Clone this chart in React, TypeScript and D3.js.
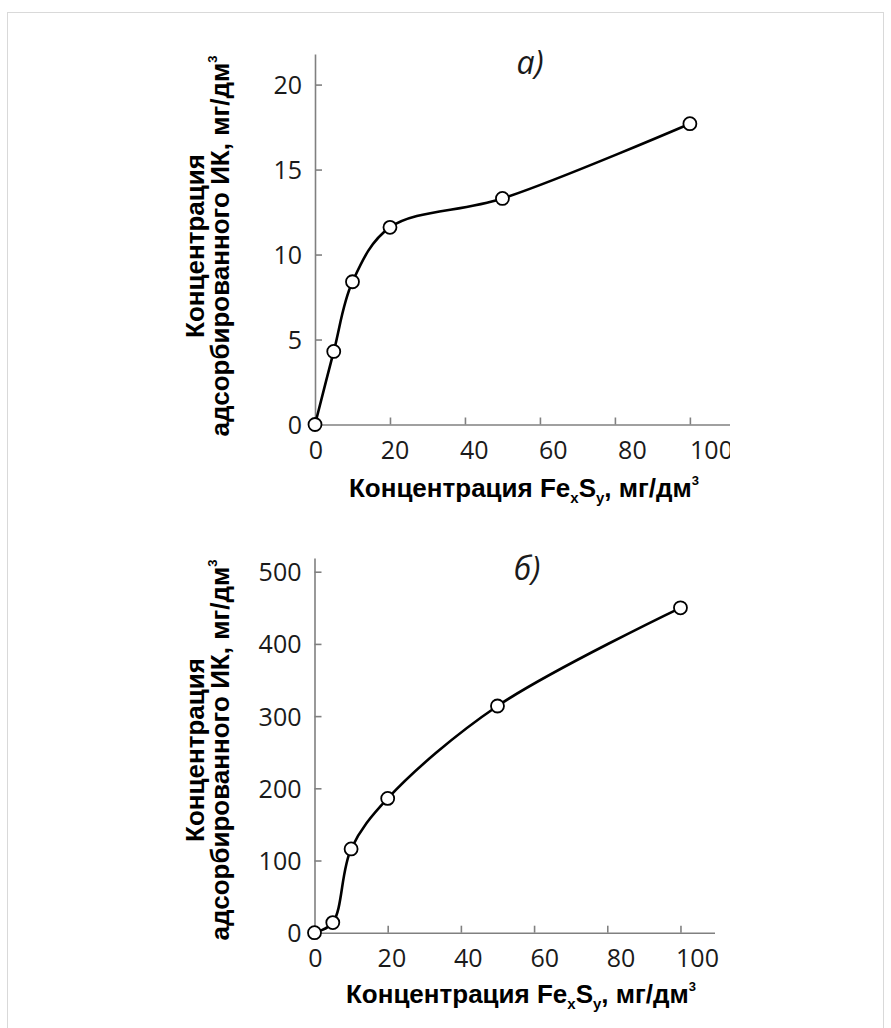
import { useEffect, useRef } from "react";
import * as d3 from "d3";

// ---- data ----
const feConc = [0, 5, 10, 20, 50, 100];
const adsorbedA = [0, 4.3, 8.4, 11.6, 13.3, 17.7];
const adsorbedB = [0, 14, 116, 186, 314, 450];

const xTicks = [0, 20, 40, 60, 80, 100];
const yTicksA = [0, 5, 10, 15, 20];
const yTicksB = [0, 100, 200, 300, 400, 500];

const TICK_FONT = "'Open Sans', 'Noto Sans', sans-serif";
const TITLE_FONT = "'Liberation Sans', Arial, sans-serif";

type Panel = {
  id: string;
  label: string;
  ys: number[];
  yTicks: number[];
  xDomain: [number, number];
  xRange: [number, number];
  xLabelRange: [number, number]; // tick labels sit on a slightly wider spacing than the ticks
  yDomain: [number, number];
  yRange: [number, number];
  labelPos: [number, number];
  xTitlePos: [number, number];
  yTitleY: number;
  clipRight?: number;
};

const panels: Panel[] = [
  {
    id: "a",
    label: "а)",
    ys: adsorbedA,
    yTicks: yTicksA,
    xDomain: [0, 110.7],
    xRange: [315, 730],
    xLabelRange: [315.5, 711],
    yDomain: [0, 21.8],
    yRange: [424.5, 54],
    labelPos: [530, 74],
    xTitlePos: [524, 497],
    yTitleY: 246,
    clipRight: 730,
  },
  {
    id: "b",
    label: "б)",
    ys: adsorbedB,
    yTicks: yTicksB,
    xDomain: [0, 109.3],
    xRange: [314.5, 714.5],
    xLabelRange: [315, 697],
    yDomain: [0, 519],
    yRange: [932.7, 558],
    labelPos: [527, 580],
    xTitlePos: [521, 1003],
    yTitleY: 750,
  },
];

function drawPanel(svg: d3.Selection<SVGSVGElement, unknown, null, undefined>, p: Panel) {
  const x = d3.scaleLinear().domain(p.xDomain).range(p.xRange);
  const y = d3.scaleLinear().domain(p.yDomain).range(p.yRange);
  const xLab = d3.scaleLinear().domain([0, 100]).range(p.xLabelRange);

  if (p.clipRight) {
    svg.append("clipPath").attr("id", "clip-" + p.id)
      .append("rect").attr("x", 0).attr("y", 0).attr("width", p.clipRight).attr("height", 1028);
  }
  const g = svg.append("g");
  if (p.clipRight) g.attr("clip-path", `url(#clip-${p.id})`);

  const axisX = d3.axisBottom(x).tickValues(xTicks).tickSizeInner(-7).tickSizeOuter(0).tickPadding(17);
  const axisY = d3.axisLeft(y).tickValues(p.yTicks).tickSizeInner(-7).tickSizeOuter(0).tickPadding(13);

  const gx = g.append("g").attr("transform", `translate(0,${y(0)})`).call(axisX);
  const gy = g.append("g").attr("transform", `translate(${x(0)},0)`).call(axisY);

  [gx, gy].forEach(a => {
    a.select(".domain").attr("stroke", "#808080").attr("stroke-width", 1.6);
    a.selectAll(".tick line").attr("stroke", "#808080").attr("stroke-width", 1.6);
    a.selectAll(".tick text")
      .attr("fill", "#1a1a1a")
      .style("font-family", TICK_FONT)
      .style("font-weight", 400)
      .style("font-size", "25px");
  });
  gy.selectAll(".tick text").attr("dy", "0.36em");
  gx.selectAll<SVGTextElement, number>(".tick text").attr("x", d => xLab(d) - x(d));

  // curve
  const pts = feConc.map((c, i) => [c, p.ys[i]] as [number, number]);
  const line = d3.line<[number, number]>()
    .x(d => x(d[0]))
    .y(d => y(d[1]))
    .curve(d3.curveCatmullRom.alpha(0.5));

  g.append("path")
    .attr("d", line(pts))
    .attr("fill", "none")
    .attr("stroke", "#000")
    .attr("stroke-width", 2.6);

  g.selectAll("circle.pt").data(pts).join("circle")
    .attr("class", "pt")
    .attr("cx", d => x(d[0]))
    .attr("cy", d => y(d[1]))
    .attr("r", 6.5)
    .attr("fill", "#fff")
    .attr("stroke", "#000")
    .attr("stroke-width", 1.8);

  // panel label
  g.append("text")
    .attr("x", p.labelPos[0])
    .attr("y", p.labelPos[1])
    .attr("text-anchor", "middle")
    .style("font-family", TICK_FONT)
    .style("font-style", "italic")
    .style("font-size", "32px")
    .attr("fill", "#1a1a1a")
    .text(p.label);

  // x title
  const xt = g.append("text")
    .attr("x", p.xTitlePos[0])
    .attr("y", p.xTitlePos[1])
    .attr("text-anchor", "middle")
    .style("font-family", TITLE_FONT)
    .style("font-weight", "bold")
    .style("font-size", "26px")
    .attr("fill", "#000");
  xt.append("tspan").text("Концентрация Fe");
  xt.append("tspan").attr("dy", 6).style("font-size", "15px").text("x");
  xt.append("tspan").attr("dy", -6).text("S");
  xt.append("tspan").attr("dy", 6).style("font-size", "15px").text("y");
  xt.append("tspan").attr("dy", -6).text(", мг/дм");
  xt.append("tspan").attr("dy", -12).style("font-size", "13px").text("3");

  // y title, two lines
  const yt = g.append("g").attr("transform", `translate(204,${p.yTitleY}) rotate(-90)`);
  yt.append("text")
    .attr("x", 0).attr("y", 0)
    .attr("text-anchor", "middle")
    .style("font-family", TITLE_FONT)
    .style("font-weight", "bold")
    .style("font-size", "26px")
    .text("Концентрация");
  const yt2 = yt.append("text")
    .attr("x", 0).attr("y", 25)
    .attr("text-anchor", "middle")
    .style("font-family", TITLE_FONT)
    .style("font-weight", "bold")
    .style("font-size", "26px");
  yt2.append("tspan").text("адсорбированного ИК, мг/дм");
  yt2.append("tspan").attr("dy", -12).style("font-size", "13px").text("3");
}

export default function App() {
  const svgRef = useRef<SVGSVGElement | null>(null);

  useEffect(() => {
    if (!svgRef.current) return;
    const svg = d3.select(svgRef.current);
    svg.selectAll("*").remove();

    // outer frame
    svg.append("rect")
      .attr("x", 7.5).attr("y", 12.5)
      .attr("width", 876).attr("height", 1030)
      .attr("fill", "none")
      .attr("stroke", "#d9d9d9")
      .attr("stroke-width", 1);

    panels.forEach(p => drawPanel(svg, p));
  }, []);

  return (
    <svg
      ref={svgRef}
      width={891}
      height={1028}
      style={{ position: "absolute", left: 0, top: 0, background: "#fff" }}
    />
  );
}
